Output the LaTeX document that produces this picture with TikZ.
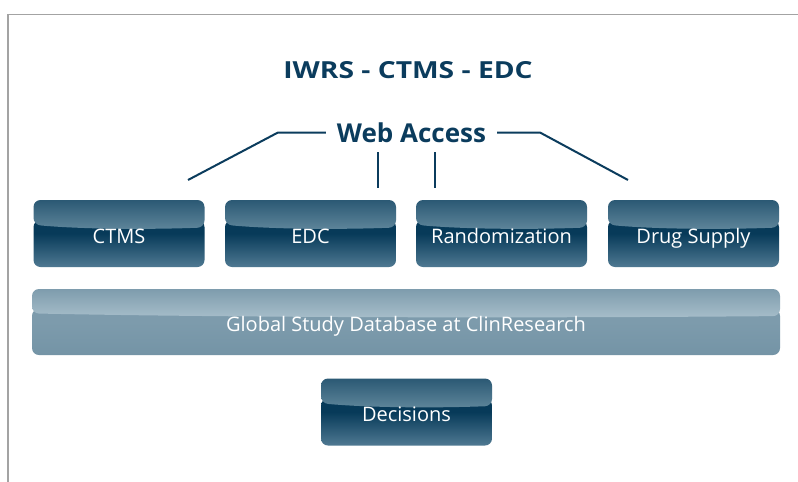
\documentclass[tikz,border=0pt]{standalone}
\usepackage{fontspec}
\setmainfont{Open Sans}
\newfontfamily\titlefont{Open Sans}[FakeStretch=1.2]
\usetikzlibrary{calc}

\definecolor{navy}{HTML}{0B3C5D}
\definecolor{frame}{HTML}{A3A3A3}
% dark glossy button
\definecolor{dTop}{HTML}{2B5974}
\definecolor{dLight}{HTML}{5E859A}
\definecolor{dMid}{HTML}{073A59}
\definecolor{dBot}{HTML}{4F7992}
% light glossy bar
\definecolor{lTop}{HTML}{7E9CAD}
\definecolor{lLight}{HTML}{A7BECA}
\definecolor{lMid}{HTML}{7D9BAC}
\definecolor{lBot}{HTML}{7494A6}

% glossy fill: upper highlight over a lower body
\newcommand\glosspaint[4]{%
  \path[top color=#3,bottom color=#4,middle color=#3]
    ($(path picture bounding box.north west)!0.30!(path picture bounding box.south west)$)
    rectangle (path picture bounding box.south east);
  \path[top color=#1,bottom color=#2]
    (path picture bounding box.north west) -- (path picture bounding box.north east)
    -- ($(path picture bounding box.north east)!0.41!(path picture bounding box.south east)$)
    .. controls ($(path picture bounding box.north west)!0.44!(path picture bounding box.south west)+(0.7*\pgfkeysvalueof{/tikz/btnw},0)$)
       and ($(path picture bounding box.north west)!0.44!(path picture bounding box.south west)+(0.3*\pgfkeysvalueof{/tikz/btnw},0)$)
    .. ($(path picture bounding box.north west)!0.37!(path picture bounding box.south west)$) -- cycle;
}

\tikzset{
  btnw/.initial=171,
  btnbase/.style={rounded corners=7pt, text=white, inner sep=0pt,
    font=\fontsize{20}{24}\selectfont, text height=19.3pt, text depth=0pt},
  darkbtn/.style={btnbase, minimum width=171pt, minimum height=67pt, btnw=171,
    path picture={\glosspaint{dTop}{dLight}{dMid}{dBot}}},
  lightbtn/.style={btnbase, minimum width=748pt, minimum height=66pt, btnw=748,
    path picture={\glosspaint{lTop}{lLight}{lMid}{lBot}}},
  wire/.style={draw=navy, line width=2pt},
}

\begin{document}
\begin{tikzpicture}[x=1pt,y=-1pt]
\useasboundingbox (0,0) rectangle (798,482);
\fill[white] (0,0) rectangle (798,482);

% page frame
\draw[frame, line width=1.5pt] (8,482) -- (8,14.5) -- (798,14.5);

% title and web access label
\node[text=navy, font=\titlefont\bfseries\fontsize{23.5}{27}\selectfont, text depth=0pt]
  (title) at (408,70) {IWRS - CTMS - EDC};
\node[text=navy, font=\bfseries\fontsize{26}{30}\selectfont, text depth=0pt, inner xsep=11pt]
  (web) at (411.5,132.5) {Web Access};

% system modules
\node[darkbtn] (ctms) at (119,233.5) {CTMS};
\node[darkbtn] (edc) at (310.5,233.5) {EDC};
\node[darkbtn] (rand) at (501.5,233.5) {Randomization};
\node[darkbtn] (drug) at (693.5,233.5) {Drug Supply};

% shared database
\node[lightbtn] (db) at (406,322) {Global Study Database at ClinResearch};

% outcome
\node[darkbtn] (dec) at (406.5,412) {Decisions};

% web access links
\coordinate (kinkl) at (278,132.5);
\coordinate (kinkr) at (540,132.5);
\coordinate (ctmsend) at (188,180);
\coordinate (drugend) at (628,180);
\coordinate (edctop) at (378,152);
\coordinate (edcend) at (378,188);
\coordinate (randtop) at (435,152);
\coordinate (randend) at (435,188);
\draw[wire] (web.west) -- (kinkl) -- (ctmsend);
\draw[wire] (web.east) -- (kinkr) -- (drugend);
\draw[wire] (edctop) -- (edcend);
\draw[wire] (randtop) -- (randend);
\end{tikzpicture}
\end{document}
